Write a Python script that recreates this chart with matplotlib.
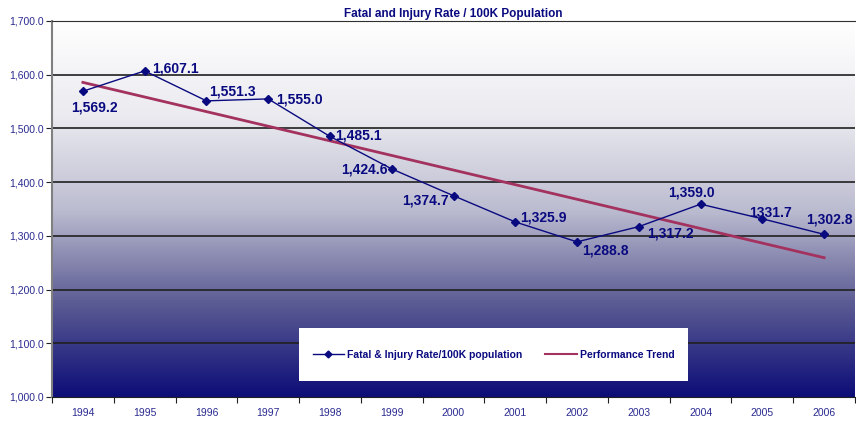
import matplotlib
matplotlib.use("Agg")
import matplotlib.pyplot as plt
import numpy as np
from matplotlib.colors import LinearSegmentedColormap
from matplotlib.lines import Line2D
from matplotlib.patches import Rectangle

years = [1994, 1995, 1996, 1997, 1998, 1999, 2000, 2001, 2002, 2003, 2004, 2005, 2006]
rates = [1569.2, 1607.1, 1551.3, 1555.0, 1485.1, 1424.6, 1374.7, 1325.9, 1288.8, 1317.2, 1359.0, 1331.7, 1302.8]
labels = ["1,569.2", "1,607.1", "1,551.3", "1,555.0", "1,485.1", "1,424.6", "1,374.7",
          "1,325.9", "1,288.8", "1,317.2", "1,359.0", "1331.7", "1,302.8"]
trend_years = [1994, 2006]
trend_values = [1585.7, 1259.3]
yticks = [1000, 1100, 1200, 1300, 1400, 1500, 1600, 1700]

# label offsets in pixels (dx, dy, ha)
offsets = [(11, -16, "center"), (7, 2, "left"), (3, 9, "left"), (8, -1, "left"),
           (5, 1, "left"), (-4, -1, "right"), (-5, -5, "right"), (5, 4, "left"),
           (5, -9, "left"), (8, -7, "left"), (-9, 12, "center"), (8, 6, "center"),
           (5, 15, "center")]

navy = "#0a0a80"
fig = plt.figure(figsize=(8.56, 4.21), dpi=100)
ax = fig.add_axes([52/856, 24/421, 803/856, 376/421])

x = np.arange(len(years))
ax.set_xlim(-0.5, len(years) - 0.5)
ax.set_ylim(1000, 1700)

cmap = LinearSegmentedColormap.from_list("bg", [
    (0.0, (0.05, 0.05, 0.47)),
    (0.25, (0.36, 0.36, 0.58)),
    (0.5, (0.74, 0.74, 0.82)),
    (0.75, (0.92, 0.92, 0.94)),
    (1.0, (1.0, 1.0, 1.0))])
grad = np.linspace(0, 1, 256).reshape(-1, 1)
ax.imshow(grad, cmap=cmap, origin="lower", aspect="auto",
          extent=(-0.5, len(years) - 0.5, 1000, 1700), zorder=0)

for yv in yticks[1:]:
    ax.axhline(yv, color="#202020", lw=1.2, zorder=1)

tx = [years.index(t) for t in trend_years]
ax.plot(tx, trend_values, color="#a3325f", lw=2, zorder=2)
ax.plot(x, rates, color=navy, lw=1, marker="D", ms=4.5, zorder=3)

for xi, yi, lab, (dx, dy, ha) in zip(x, rates, labels, offsets):
    ax.annotate(lab, (xi, yi), xytext=(dx, dy), textcoords="offset pixels",
                ha=ha, va="center", fontsize=10, fontweight="bold",
                color=navy, family="Liberation Sans", zorder=4)

ax.set_yticks(yticks)
ax.set_yticklabels([f"{v:,.1f}" for v in yticks], fontsize=7.5,
                   color="#2a2a90", family="Liberation Sans")
ax.set_xticks(np.arange(-0.5, len(years), 1.0))
ax.set_xticklabels([])
ax.set_xticks(x, minor=True)
ax.set_xticklabels([str(y) for y in years], minor=True, fontsize=7.5,
                   color="#2a2a90", family="Liberation Sans")
ax.tick_params(axis="x", which="major", length=4, direction="out", color="#202020")
ax.tick_params(axis="x", which="minor", length=0, pad=8)
ax.tick_params(axis="y", length=4, color="#202020", pad=2)

ax.spines["right"].set_visible(False)
ax.spines["top"].set_color("#303030")
ax.spines["left"].set_color("#808080")
ax.spines["left"].set_linewidth(1.5)
ax.spines["bottom"].set_color("#202020")

ax.set_title("Fatal and Injury Rate / 100K Population", fontsize=8.5,
             fontweight="bold", color=navy, family="Liberation Sans", pad=3)

# legend box
ax.add_patch(Rectangle((0.3076, 0.0426), 0.4844, 0.1409, transform=ax.transAxes,
                       facecolor="white", edgecolor="none", zorder=5))
handles = [Line2D([], [], color=navy, lw=1, marker="D", ms=3.5),
           Line2D([], [], color="#a3325f", lw=1.5)]
leg = ax.legend(handles, ["Fatal & Injury Rate/100K population", "Performance Trend"],
                loc="center", bbox_to_anchor=(0.55, 0.113), ncol=2,
                frameon=False,
                prop={"family": "Liberation Sans", "weight": "bold", "size": 7.5},
                columnspacing=2.2, handlelength=3.0, handletextpad=0.3,
                borderaxespad=0)
leg.set_zorder(6)
for t in leg.get_texts():
    t.set_color(navy)

fig.savefig("out.png", dpi=100)
